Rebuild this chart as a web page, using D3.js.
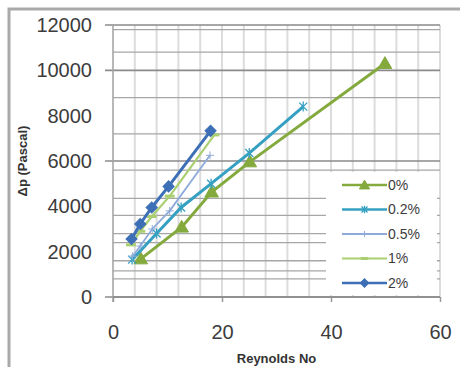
<!DOCTYPE html>
<html>
<head>
<meta charset="utf-8">
<script src="https://cdn.jsdelivr.net/npm/d3@7"></script>
<style>
  body { margin: 0; background: #fff; }
  svg { display: block; font-family: "Liberation Sans", Arial, sans-serif; }
</style>
</head>
<body>
<svg width="460" height="367"></svg>
<script>
// series names and data points [Reynolds No, dp in Pascal]
const seriesNames = ['0%', '0.2%', '0.5%', '1%', '2%'];
const s0 = [[5.1, 1680], [12.6, 3080], [18.1, 4630], [25.1, 5960], [49.9, 10300]];
const s02 = [[3.5, 1650], [8, 2800], [12.5, 3950], [18, 5000], [25, 6350], [34.9, 8400]];
const s05 = [[3.6, 1800], [5, 2250], [7.2, 3000], [10.4, 3800], [17.8, 6250]];
const s1 = [[3.3, 2300], [5, 2900], [7.1, 3550], [10.4, 4450], [18.6, 7150]];
const s2 = [[3.4, 2560], [5, 3220], [7.1, 3950], [10.2, 4880], [17.9, 7330]];

const xTicks = [0, 20, 40, 60];
const yTicks = [0, 2000, 4000, 6000, 8000, 10000, 12000];
const xMinor = [4, 8, 12, 16, 20, 24, 28, 32, 36, 40, 44, 48, 52, 56, 60];
const yMajorGrid = [0, 6000, 10000, 12000];
const yMinorGrid = [800, 1150, 1600, 2400, 2800, 3600, 4350, 5600, 7200, 8800, 10800, 11800];

const svg = d3.select('svg');
const x = d3.scaleLinear().domain([0, 60]).range([113, 440]);
const y = d3.scaleLinear().domain([0, 12000]).range([297, 25]);

// outer chart border (only top/left visible)
svg.append('rect')
   .attr('x', 9).attr('y', 9).attr('width', 470).attr('height', 380)
   .attr('fill', 'none').attr('stroke', '#a9a9a9').attr('stroke-width', 3);

const grid = svg.append('g');
grid.selectAll('line.vx').data(xMinor).enter().append('line')
    .attr('x1', d => x(d)).attr('x2', d => x(d))
    .attr('y1', y(12000)).attr('y2', y(0))
    .attr('stroke', '#dcdcdc').attr('stroke-width', 2);
grid.selectAll('line.hmin').data(yMinorGrid).enter().append('line')
    .attr('x1', x(0)).attr('x2', x(60))
    .attr('y1', d => y(d)).attr('y2', d => y(d))
    .attr('stroke', '#a6a6a6').attr('stroke-width', 1.3);
grid.selectAll('line.hmaj').data(yMajorGrid).enter().append('line')
    .attr('x1', x(0) - 8).attr('x2', x(60))
    .attr('y1', d => y(d)).attr('y2', d => y(d))
    .attr('stroke', '#8a8a8a').attr('stroke-width', 1.6);

// y axis line
svg.append('line')
   .attr('x1', x(0)).attr('x2', x(0)).attr('y1', y(12000)).attr('y2', y(0) + 5)
   .attr('stroke', '#a0a0a0').attr('stroke-width', 1.5);

// axes labels via d3 axes
const yAxis = svg.append('g').attr('transform', `translate(${x(0)},0)`)
    .call(d3.axisLeft(y).tickValues(yTicks).tickSize(0).tickPadding(21).tickFormat(d3.format('d')));
const xAxis = svg.append('g').attr('transform', `translate(0,${y(0)})`)
    .call(d3.axisBottom(x).tickValues(xTicks).tickSize(5).tickPadding(23));
[yAxis, xAxis].forEach(a => {
    a.select('.domain').remove();
    a.selectAll('text').attr('font-size', 20).attr('fill', '#3c3c3c')
     .attr('font-family', '"Liberation Sans", Arial, sans-serif');
    a.selectAll('line').attr('stroke', '#9a9a9a').attr('stroke-width', 1.5);
});
svg.append('line')
   .attr('x1', x(0)).attr('x2', x(60)).attr('y1', y(0)).attr('y2', y(0))
   .attr('stroke', '#8a8a8a').attr('stroke-width', 1.6);

// axis titles
svg.append('text')
   .attr('x', (x(0) + x(60)) / 2).attr('y', 358).attr('dy', '0.35em')
   .attr('text-anchor', 'middle').attr('font-size', 13).attr('font-weight', 'bold')
   .attr('fill', '#333').text('Reynolds No');
svg.append('text')
   .attr('transform', `translate(22,${(y(0) + y(12000)) / 2}) rotate(-90)`)
   .attr('dy', '0.35em').attr('text-anchor', 'middle')
   .attr('font-size', 13).attr('font-weight', 'bold').attr('fill', '#333')
   .text('Δp (Pascal)');

// markers
const tri = d3.symbol().type(d3.symbolTriangle);
const markers = {
    tri: (g, k) => g.append('path').attr('d', tri.size(80 * k * k)()).attr('transform', 'translate(0,1)'),
    star: (g, k) => g.append('path').attr('d', `M${-4*k},${-4*k}L${4*k},${4*k}M${-4*k},${4*k}L${4*k},${-4*k}M0,${-5*k}V${5*k}`).attr('stroke-width', 1.3).attr('fill', 'none'),
    plus: (g, k) => g.append('path').attr('d', `M${-4*k},0H${4*k}M0,${-4*k}V${4*k}`).attr('stroke-width', 1).attr('fill', 'none'),
    dash: (g, k) => g.append('path').attr('d', `M${-5*k},0H${5*k}`).attr('stroke-width', 3).attr('fill', 'none'),
    diamond: (g, k) => g.append('path').attr('d', d3.symbol().type(d3.symbolSquare).size(62 * k * k)()).attr('transform', 'rotate(45)')
};

const series = [
    { name: seriesNames[0], data: s0, color: '#84aa3e', width: 3, marker: 'tri' },
    { name: seriesNames[1], data: s02, color: '#35a0c2', width: 3, marker: 'star' },
    { name: seriesNames[2], data: s05, color: '#8eaadb', width: 1.8, marker: 'plus' },
    { name: seriesNames[3], data: s1, color: '#a9cf70', width: 2.2, marker: 'dash' },
    { name: seriesNames[4], data: s2, color: '#3d6fb6', width: 3, marker: 'diamond' }
];

const line = d3.line().x(d => x(d[0])).y(d => y(d[1]));
const plot = svg.append('g');
series.forEach(s => {
    plot.append('path').datum(s.data)
        .attr('d', line).attr('fill', 'none')
        .attr('stroke', s.color).attr('stroke-width', s.width);
    s.data.forEach(p => {
        const g = plot.append('g').attr('transform', `translate(${x(p[0])},${y(p[1])})`)
            .attr('fill', s.color).attr('stroke', s.color);
        markers[s.marker](g, 1);
    });
});

// legend
const legend = svg.append('g');
legend.append('rect').attr('x', 326).attr('y', 172).attr('width', 111).attr('height', 123).attr('fill', '#fff');
series.forEach((s, i) => {
    const ly = 185 + i * 24.5;
    legend.append('line').attr('x1', 342).attr('x2', 387).attr('y1', ly).attr('y2', ly)
        .attr('stroke', s.color).attr('stroke-width', Math.min(s.width, 2.5));
    const g = legend.append('g').attr('transform', `translate(364.5,${ly})`)
        .attr('fill', s.color).attr('stroke', s.color);
    markers[s.marker](g, 0.75);
    legend.append('text').attr('x', 388).attr('y', ly).attr('dy', '0.35em')
        .attr('font-size', 14).attr('fill', '#3c3c3c').text(s.name);
});
</script>
</body>
</html>
